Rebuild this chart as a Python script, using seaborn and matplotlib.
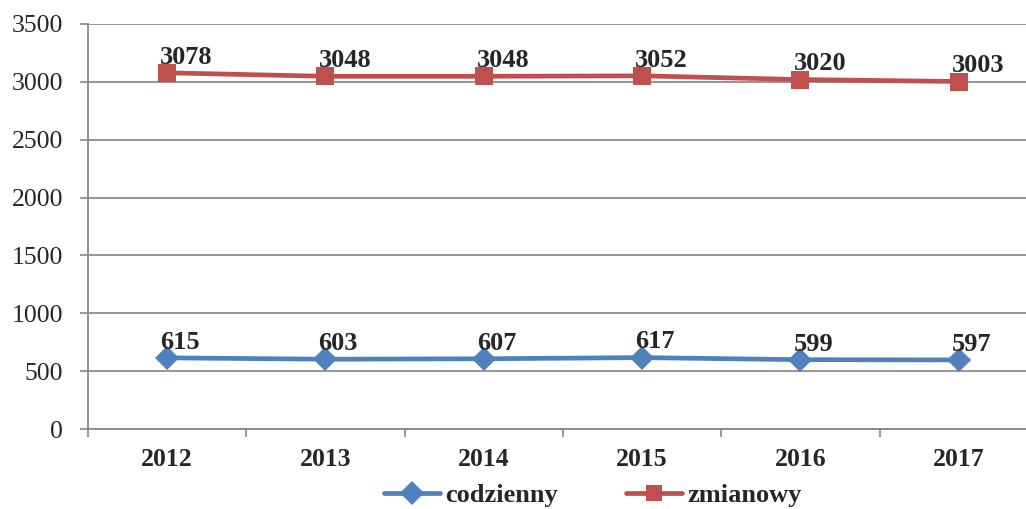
import pandas as pd
import numpy as np
import matplotlib
matplotlib.use("Agg")
import matplotlib.pyplot as plt
import seaborn as sns

# data
years = ["2012", "2013", "2014", "2015", "2016", "2017"]
codzienny = [615, 603, 607, 617, 599, 597]
zmianowy = [3078, 3048, 3048, 3052, 3020, 3003]
series_names = ["codzienny", "zmianowy"]
colors = ["#4F81BD", "#C0504D"]

df = pd.DataFrame({
    "rok": years * 2,
    "x": list(range(len(years))) * 2,
    "wartosc": codzienny + zmianowy,
    "seria": ["codzienny"] * len(years) + ["zmianowy"] * len(years),
})

sns.set_style("white")
plt.rcParams["font.family"] = ["Liberation Serif", "DejaVu Serif"]

fig = plt.figure(figsize=(10.26, 5.09), dpi=100)
ax = fig.add_axes([88 / 1026, 80 / 509, 950 / 1026, 405 / 509])

sns.lineplot(data=df, x="x", y="wartosc", hue="seria", style="seria",
             palette=colors, markers={"codzienny": "D", "zmianowy": "s"},
             dashes=False, linewidth=3.4, markersize=12.5, markeredgewidth=0,
             ax=ax, legend=False)

# data labels
for vals in [codzienny, zmianowy]:
    for i, v in enumerate(vals):
        ax.annotate(str(v), (i, v), xytext=(-5, 3), textcoords="offset points",
                    ha="left", va="bottom", fontsize=19, fontweight="bold")

ax.set_xlim(-0.5, len(years) - 0.5)
ax.set_ylim(0, 3500)
ax.set_yticks(np.arange(0, 3501, 500))
ax.set_yticklabels([str(t) for t in range(0, 3501, 500)], fontsize=18.5)
ax.set_xticks(range(len(years)))
ax.set_xticklabels(years, fontsize=18.5, fontweight="bold")
ax.set_xticks(np.arange(-0.5, len(years), 1), minor=True)
ax.tick_params(axis="x", which="major", bottom=False, length=0, pad=14)
ax.tick_params(axis="x", which="minor", bottom=True, length=6, color="#888888", width=1.2)
ax.tick_params(axis="y", left=True, length=6, color="#888888", width=1.2, pad=12)
ax.grid(axis="y", color="#8c8c8c", linewidth=1.3)
ax.set_axisbelow(True)
for s in ["top", "right"]:
    ax.spines[s].set_visible(False)
for s in ["left", "bottom"]:
    ax.spines[s].set_color("#888888")
    ax.spines[s].set_linewidth(1.3)
ax.set_xlabel("")
ax.set_ylabel("")

handles = [
    plt.Line2D([], [], color=colors[0], marker="D", markersize=12, linewidth=3.4, markeredgewidth=0),
    plt.Line2D([], [], color=colors[1], marker="s", markersize=12, linewidth=3.4, markeredgewidth=0),
]
fig.legend(handles, series_names, loc="center", bbox_to_anchor=(593 / 1026, 14 / 509),
           ncol=2, frameon=False, prop={"size": 19, "weight": "bold"},
           handlelength=2.1, handletextpad=0.2, columnspacing=2.6)

fig.savefig("out.png", dpi=100)
